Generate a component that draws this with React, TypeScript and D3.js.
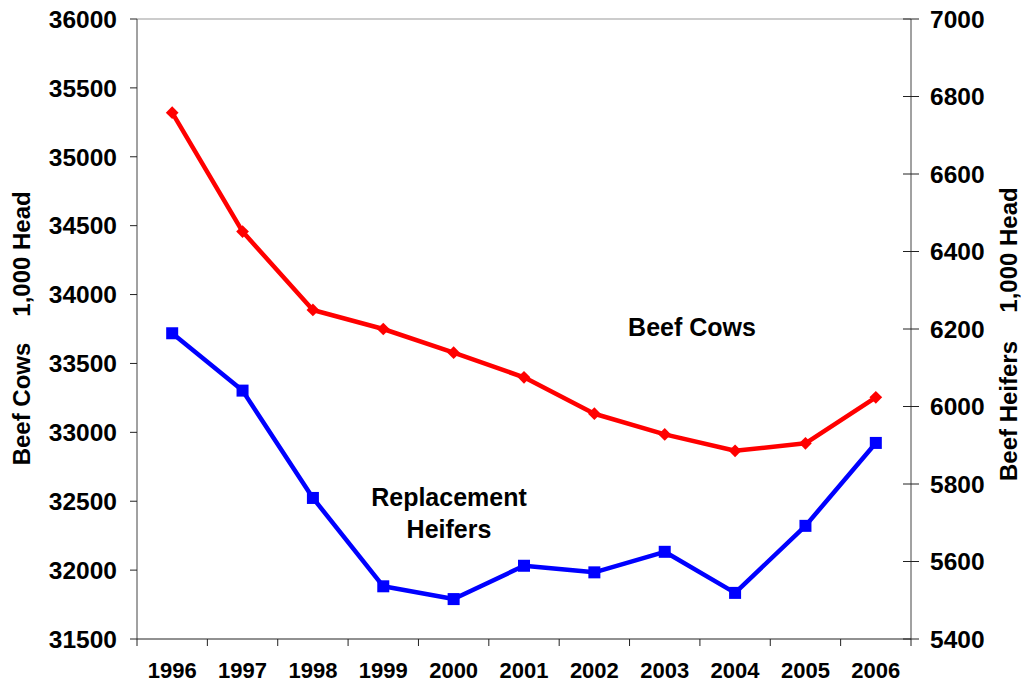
import React from 'react';
import * as d3 from 'd3';

const years = ['1996', '1997', '1998', '1999', '2000', '2001', '2002', '2003', '2004', '2005', '2006'];
const beefCows = [35320, 34457, 33888, 33750, 33578, 33399, 33135, 32985, 32866, 32920, 33254];
const heifers = [6189, 6041, 5764, 5536, 5503, 5589, 5572, 5625, 5519, 5692, 5906];
const leftTicks = [31500, 32000, 32500, 33000, 33500, 34000, 34500, 35000, 35500, 36000];
const rightTicks = [5400, 5600, 5800, 6000, 6200, 6400, 6600, 6800, 7000];

const W = 1021;
const H = 684;
const plot = { left: 137, right: 911, top: 19, bottom: 639 };
const font = '"Liberation Sans", Arial, sans-serif';

const App = () => {
  const x = d3.scaleBand().domain(years).range([plot.left, plot.right]).padding(0);
  const yL = d3.scaleLinear().domain([31500, 36000]).range([plot.bottom, plot.top]);
  const yR = d3.scaleLinear().domain([5400, 7000]).range([plot.bottom, plot.top]);
  const cx = (d: string) => (x(d) as number) + x.bandwidth() / 2;

  const cowLine = d3.line<number>().x((_, i) => cx(years[i])).y(d => yL(d));
  const heiferLine = d3.line<number>().x((_, i) => cx(years[i])).y(d => yR(d));

  const bounds = years.map(d => x(d) as number).concat([plot.right]);

  return (
    <svg width={W} height={H} style={{ position: 'absolute', left: 0, top: 0, background: '#fff' }}
      fontFamily={font} fontWeight="bold">
      {/* plot frame */}
      <line x1={plot.left} x2={plot.right} y1={plot.top} y2={plot.top} stroke="#999" strokeWidth={1} />
      <line x1={plot.left} x2={plot.left} y1={plot.top} y2={plot.bottom} stroke="#444" strokeWidth={1} />
      <line x1={plot.right} x2={plot.right} y1={plot.top} y2={plot.bottom} stroke="#444" strokeWidth={1} />
      <line x1={plot.left} x2={plot.right} y1={plot.bottom} y2={plot.bottom} stroke="#222" strokeWidth={1} />

      {/* left axis */}
      {leftTicks.map(t => (
        <g key={'l' + t}>
          <line x1={plot.left - 7} x2={plot.left} y1={yL(t)} y2={yL(t)} stroke="#222" />
          <text x={117} y={yL(t)} dy="0.36em" textAnchor="end" fontSize={24.5}>{t}</text>
        </g>
      ))}

      {/* right axis */}
      {rightTicks.map(t => (
        <g key={'r' + t}>
          <line x1={plot.right - 8} x2={plot.right + 8} y1={yR(t)} y2={yR(t)} stroke="#222" />
          <text x={930} y={yR(t)} dy="0.36em" textAnchor="start" fontSize={24.5}>{t}</text>
        </g>
      ))}

      {/* bottom axis */}
      {bounds.map((b, i) => (
        <line key={'b' + i} x1={b} x2={b} y1={plot.bottom} y2={plot.bottom + 7} stroke="#222" />
      ))}
      {years.map(d => (
        <text key={'x' + d} x={cx(d)} y={678} textAnchor="middle" fontSize={22}>{d}</text>
      ))}

      {/* axis titles */}
      <g transform="translate(30,0) rotate(-90)">
        <text x={-404} y={0} textAnchor="middle" fontSize={24}>Beef Cows</text>
        <text x={-254} y={0} textAnchor="middle" fontSize={24}>1,000 Head</text>
      </g>
      <g transform="translate(1017,0) rotate(-90)">
        <text x={-411} y={0} textAnchor="middle" fontSize={24}>Beef Heifers</text>
        <text x={-250} y={0} textAnchor="middle" fontSize={24}>1,000 Head</text>
      </g>

      {/* series */}
      <path d={cowLine(beefCows) as string} fill="none" stroke="#ff0000" strokeWidth={4.5} strokeLinejoin="round" />
      {beefCows.map((v, i) => (
        <rect key={'c' + i} x={-4.5} y={-4.5} width={9} height={9} fill="#ff0000"
          transform={`translate(${cx(years[i])},${yL(v)}) rotate(45)`} />
      ))}
      <path d={heiferLine(heifers) as string} fill="none" stroke="#0000ff" strokeWidth={4.5} strokeLinejoin="round" />
      {heifers.map((v, i) => (
        <rect key={'h' + i} x={cx(years[i]) - 6} y={yR(v) - 6} width={12} height={12} fill="#0000ff" />
      ))}

      {/* annotations */}
      <text x={692} y={336} textAnchor="middle" fontSize={25}>Beef Cows</text>
      <text x={449} y={506} textAnchor="middle" fontSize={25}>Replacement</text>
      <text x={449} y={538} textAnchor="middle" fontSize={25}>Heifers</text>
    </svg>
  );
};

export default App;
